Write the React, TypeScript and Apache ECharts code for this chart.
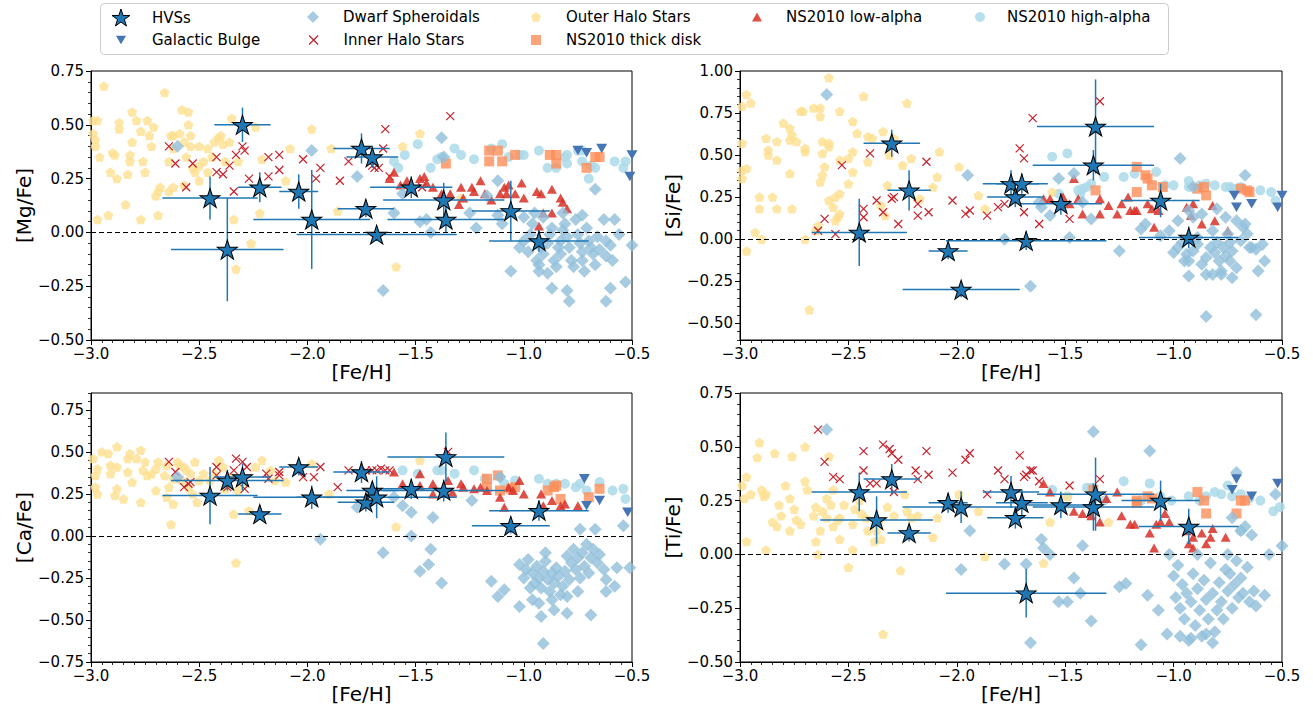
import React, { useEffect, useRef } from 'react';
import * as echarts from 'echarts';

const FONT = "'DejaVu Sans', sans-serif";

// ---------- HVS stars (same star order in every panel) ----------
const hvsFeH = [-2.45, -2.37, -2.30, -2.22, -2.04, -1.98, -1.75, -1.73, -1.70, -1.68, -1.52, -1.37, -1.36, -1.06, -0.93];
const hvsFeHErr = [0.22, 0.26, 0.13, 0.10, 0.09, 0.27, 0.13, 0.13, 0.12, 0.37, 0.19, 0.28, 0.27, 0.18, 0.23];
const hvsMg = [0.16, -0.08, 0.50, 0.21, 0.19, 0.06, 0.39, 0.11, 0.35, -0.01, 0.21, 0.15, 0.06, 0.10, -0.04];
const hvsMgErr = [0.10, 0.24, 0.08, 0.07, 0.08, 0.23, 0.07, 0.04, 0.05, 0.03, 0.05, 0.08, 0.06, 0.14, 0.05];
const hvsSi = [0.04, null, 0.57, 0.29, -0.07, -0.30, 0.33, 0.25, 0.33, -0.01, 0.21, 0.44, 0.67, 0.23, 0.01];
const hvsSiErr = [0.20, null, 0.08, 0.12, 0.05, 0.045, 0.08, 0.06, 0.06, 0.055, 0.065, 0.09, 0.28, 0.10, 0.065];
const hvsCa = [0.24, 0.33, 0.35, 0.13, 0.41, 0.23, 0.38, 0.20, 0.27, 0.23, 0.28, 0.27, 0.47, 0.06, 0.15];
const hvsCaErr = [0.17, 0.06, 0.08, 0.035, 0.05, 0.07, 0.065, 0.055, 0.05, 0.125, 0.06, 0.065, 0.145, 0.045, 0.06];
const hvsTi = [0.29, 0.16, 0.35, 0.10, 0.24, 0.22, 0.29, 0.17, 0.24, -0.18, 0.23, 0.22, 0.28, 0.25, 0.13];
const hvsTiErr = [0.09, 0.11, 0.07, 0.04, 0.047, 0.074, 0.074, 0.05, 0.062, 0.113, 0.062, 0.11, 0.17, 0.093, 0.082];

// ---------- [Mg/Fe] ----------
const mgOuter = [[-2.94,0.68],[-2.99,0.52],[-2.97,0.52],[-2.99,0.46],[-2.98,0.43],[-2.98,0.40],[-2.96,0.35],[-2.97,0.06],[-2.92,0.08],[-2.91,0.28],[-2.90,0.37],[-2.89,0.36],[-2.88,0.25],[-2.87,0.51],[-2.87,0.48],[-2.84,0.13],[-2.83,0.27],[-2.82,0.33],[-2.82,0.36],[-2.81,0.56],[-2.79,0.52],[-2.81,0.42],[-2.77,0.06],[-2.76,0.33],[-2.75,0.28],[-2.77,0.47],[-2.74,0.52],[-2.71,0.49],[-2.73,0.45],[-2.72,0.40],[-2.70,0.17],[-2.69,0.19],[-2.68,0.21],[-2.69,0.08],[-2.66,0.65],[-2.64,0.33],[-2.64,0.19],[-2.63,0.45],[-2.62,0.45],[-2.62,0.39],[-2.59,0.46],[-2.58,0.57],[-2.55,0.56],[-2.57,0.42],[-2.55,0.50],[-2.54,0.45],[-2.54,0.40],[-2.53,0.30],[-2.52,0.28],[-2.50,0.31],[-2.50,0.40],[-2.46,0.39],[-2.50,0.24],[-2.46,0.28],[-2.43,0.42],[-2.41,0.44],[-2.40,0.45],[-2.39,0.41],[-2.38,0.33],[-2.35,0.53],[-2.36,0.42],[-2.34,0.06],[-2.33,-0.17],[-2.26,-0.05],[-2.24,0.49],[-2.32,0.33],[-2.22,0.09],[-2.21,0.34],[-2.10,0.24],[-2.08,0.39],[-1.98,0.48],[-1.89,0.39],[-1.86,0.10],[-1.56,0.40],[-1.48,0.46],[-1.29,0.16],[-1.59,-0.16],[-2.62,0.21],[-2.57,0.22],[-2.56,0.35],[-2.48,0.33],[-2.44,0.35]];
const mgInner = [[-2.64,0.40],[-2.61,0.32],[-2.56,0.21],[-2.53,0.32],[-2.42,0.35],[-2.42,0.28],[-2.39,0.27],[-2.36,0.31],[-2.33,0.36],[-2.30,0.40],[-2.29,0.38],[-2.34,0.19],[-2.27,0.25],[-2.18,0.35],[-2.18,0.26],[-2.13,0.36],[-2.13,0.29],[-2.02,0.34],[-1.94,0.30],[-1.96,0.25],[-1.85,0.24],[-1.81,0.33],[-1.70,0.31],[-1.69,0.30],[-1.67,0.30],[-1.64,0.48],[-1.65,0.39],[-1.62,0.26],[-1.34,0.54],[-1.47,0.21]];
const mgDsph = [[-2.60,0.40],[-1.98,0.38],[-1.77,0.26],[-1.38,0.44],[-1.37,0.35],[-1.65,-0.27],[-1.60,0.09],[-1.56,0.18],[-1.48,0.05],[-1.43,0.00],[-1.22,0.02],[-1.25,0.09],[-1.12,0.24],[-1.10,0.04],[-1.06,-0.18],[-0.67,0.20],[-0.58,0.06],[-0.56,-0.01],[-0.87,-0.26],[-0.79,-0.32],[-0.80,-0.27],[-0.62,-0.32],[-0.60,-0.26],[-0.53,-0.23],[-0.50,-0.06],[-1.02,-0.07],[-1.00,-0.04],[-0.98,-0.09],[-0.97,-0.01],[-0.96,0.04],[-0.94,-0.13],[-0.93,-0.15],[-0.92,-0.07],[-0.91,-0.10],[-0.89,-0.05],[-0.88,-0.01],[-0.87,0.02],[-0.86,-0.13],[-0.85,-0.16],[-0.84,-0.07],[-0.83,-0.10],[-0.83,-0.04],[-0.82,0.01],[-0.81,0.04],[-0.80,-0.02],[-0.79,-0.07],[-0.78,-0.13],[-0.77,-0.16],[-0.76,0.06],[-0.75,-0.01],[-0.74,-0.05],[-0.73,-0.09],[-0.73,-0.13],[-0.72,-0.18],[-0.71,0.02],[-0.70,-0.04],[-0.69,-0.07],[-0.68,-0.10],[-0.67,-0.15],[-0.66,-0.02],[-0.65,-0.08],[-0.63,0.06],[-0.62,-0.04],[-0.62,-0.11],[-0.60,-0.06],[-0.59,-0.13],[-0.91,0.07],[-0.93,-0.18],[-0.89,-0.19],[-0.82,0.09],[-0.73,0.08],[-1.00,0.07],[-0.95,0.09],[-1.45,0.06],[-1.12,0.08],[-1.17,0.17]];
const mgHigh = [[-1.49,0.41],[-1.55,0.36],[-1.43,0.30],[-1.40,0.34],[-1.38,0.35],[-1.32,0.39],[-1.23,0.34],[-1.15,0.39],[-1.10,0.41],[-1.07,0.35],[-1.00,0.36],[-0.93,0.38],[-0.89,0.30],[-0.81,0.35],[-0.85,0.30],[-0.75,0.38],[-0.73,0.33],[-0.69,0.31],[-0.67,0.30],[-0.70,0.25],[-0.58,0.33],[-0.54,0.30],[-0.53,0.33],[-0.73,0.38],[-0.80,0.36],[-1.29,0.36],[-0.80,0.32],[-1.02,0.36],[-1.58,0.30],[-1.60,0.33]];
const mgThick = [[-1.36,0.32],[-1.16,0.38],[-1.12,0.38],[-1.16,0.33],[-1.10,0.33],[-1.04,0.36],[-0.88,0.36],[-0.85,0.36],[-0.85,0.32],[-0.71,0.30],[-0.67,0.35],[-0.65,0.35]];
const mgLow = [[-1.60,0.28],[-1.57,0.22],[-1.48,0.25],[-1.46,0.26],[-1.45,0.23],[-1.42,0.21],[-1.34,0.18],[-1.29,0.21],[-1.28,0.16],[-1.24,0.21],[-1.23,0.19],[-1.20,0.24],[-1.18,0.18],[-1.15,0.15],[-1.11,0.18],[-1.09,0.21],[-1.08,0.18],[-1.07,0.22],[-1.01,0.23],[-1.04,0.18],[-1.00,0.16],[-0.94,0.19],[-0.92,0.18],[-0.87,0.20],[-0.83,0.16],[-0.82,0.14],[-0.91,0.09],[-0.87,0.09],[-1.30,0.13],[-1.38,0.18],[-1.54,0.24],[-1.62,0.25],[-0.80,0.11],[-0.93,0.03]];
const mgBulge = [[-0.75,0.38],[-0.71,0.37],[-0.64,0.39],[-0.51,0.26],[-0.50,0.36]];

// ---------- [Si/Fe] ----------
const siOuter = [[-2.99,0.79],[-2.97,0.86],[-2.95,0.81],[-2.99,0.57],[-2.99,0.41],[-2.99,0.36],[-2.97,0.42],[-2.93,0.04],[-2.91,0.25],[-2.91,0.18],[-2.90,0.00],[-2.88,0.60],[-2.87,0.53],[-2.87,0.50],[-2.85,0.25],[-2.83,0.18],[-2.83,0.47],[-2.83,0.58],[-2.80,0.69],[-2.77,0.66],[-2.76,0.62],[-2.77,0.59],[-2.77,0.39],[-2.76,0.18],[-2.74,0.58],[-2.72,0.76],[-2.71,0.76],[-2.70,0.54],[-2.70,0.52],[-2.70,0.00],[-2.68,-0.42],[-2.66,0.78],[-2.63,0.78],[-2.63,0.73],[-2.62,0.58],[-2.62,0.51],[-2.63,0.34],[-2.62,0.38],[-2.61,0.43],[-2.65,0.05],[-2.64,0.08],[-2.59,0.96],[-2.59,0.57],[-2.59,0.55],[-2.59,0.23],[-2.56,0.25],[-2.57,0.19],[-2.55,0.13],[-2.54,0.27],[-2.56,0.11],[-2.54,0.15],[-2.54,0.76],[-2.54,0.47],[-2.50,0.33],[-2.50,0.48],[-2.48,0.70],[-2.48,0.52],[-2.46,0.63],[-2.48,0.40],[-2.43,0.85],[-2.41,0.61],[-2.41,0.46],[-2.39,0.60],[-2.34,0.64],[-2.35,0.20],[-2.33,0.14],[-2.32,0.32],[-2.31,0.50],[-2.29,0.60],[-2.25,0.44],[-2.23,0.81],[-2.21,0.48],[-2.17,0.24],[-2.11,0.31],[-2.09,0.37],[-2.08,0.52],[-1.99,0.43],[-1.90,0.26],[-1.87,0.18],[-1.56,0.28],[-2.97,-0.07]];
const siInner = [[-2.64,0.05],[-2.61,0.12],[-2.56,0.03],[-2.53,0.44],[-2.43,0.18],[-2.43,0.13],[-2.40,0.51],[-2.37,0.23],[-2.34,0.16],[-2.30,0.24],[-2.29,0.25],[-2.27,0.09],[-2.18,0.21],[-2.18,0.14],[-2.14,0.46],[-2.13,0.16],[-2.02,0.23],[-1.96,0.15],[-1.94,0.17],[-1.86,0.14],[-1.81,0.19],[-1.78,0.21],[-1.71,0.54],[-1.69,0.48],[-1.69,0.16],[-1.65,0.72],[-1.62,0.09],[-1.48,0.12],[-1.34,0.82]];
const siDsph = [[-2.60,0.86],[-1.95,0.38],[-1.78,0.00],[-1.66,-0.28],[-1.62,0.22],[-1.61,0.19],[-1.57,0.14],[-1.53,0.36],[-1.48,0.01],[-1.46,0.39],[-1.38,0.12],[-1.42,0.22],[-1.25,-0.07],[-1.15,0.06],[-1.13,0.09],[-1.06,0.02],[-0.97,0.48],[-0.91,0.31],[-0.67,0.38],[-0.61,-0.19],[-0.62,-0.45],[-0.85,-0.46],[-0.93,-0.22],[-0.58,-0.13],[-0.59,-0.03],[-0.65,-0.05],[-0.62,-0.06],[-1.00,-0.08],[-0.98,-0.05],[-0.96,-0.02],[-0.94,-0.09],[-0.93,-0.13],[-0.91,-0.07],[-0.89,-0.03],[-0.87,-0.15],[-0.85,-0.11],[-0.83,-0.05],[-0.82,-0.21],[-0.81,-0.08],[-0.80,-0.02],[-0.79,-0.13],[-0.78,-0.19],[-0.77,-0.05],[-0.76,-0.10],[-0.75,0.03],[-0.74,-0.13],[-0.74,-0.02],[-0.73,-0.07],[-0.71,-0.17],[-0.69,-0.01],[-0.68,0.07],[-0.66,0.03],[-0.64,-0.05],[-0.91,0.13],[-0.87,0.15],[-0.80,0.18],[-0.76,0.13],[-0.98,0.11],[-0.93,0.17],[-1.02,0.05],[-0.82,0.05],[-0.89,0.01],[-0.95,-0.13],[-0.73,-0.23],[-0.78,-0.21],[-0.85,-0.21],[-0.67,0.09],[-0.71,0.11]];
const siHigh = [[-1.56,0.49],[-1.49,0.51],[-1.40,0.31],[-1.43,0.27],[-1.42,0.30],[-1.38,0.33],[-1.32,0.37],[-1.23,0.37],[-1.18,0.39],[-1.08,0.40],[-1.04,0.32],[-1.00,0.32],[-0.93,0.345],[-0.93,0.31],[-0.88,0.32],[-0.81,0.32],[-0.74,0.31],[-0.73,0.30],[-0.60,0.29],[-0.55,0.28],[-0.53,0.23],[-0.69,0.31],[-1.53,0.27],[-1.44,0.29],[-0.85,0.33],[-0.76,0.31],[-0.71,0.30]];
const siThick = [[-1.36,0.29],[-1.17,0.43],[-1.13,0.38],[-1.12,0.36],[-1.10,0.32],[-1.17,0.28],[-1.05,0.31],[-0.89,0.30],[-0.86,0.31],[-0.85,0.26],[-0.69,0.30],[-0.66,0.29],[-0.65,0.28]];
const siLow = [[-1.57,0.24],[-1.51,0.25],[-1.48,0.21],[-1.46,0.36],[-1.42,0.15],[-1.34,0.24],[-1.34,0.15],[-1.30,0.20],[-1.26,0.15],[-1.24,0.21],[-1.21,0.25],[-1.20,0.17],[-1.18,0.17],[-1.17,0.17],[-1.12,0.21],[-1.10,0.18],[-1.09,0.07],[-1.07,0.17],[-0.94,0.19],[-0.92,0.14],[-0.87,0.09],[-0.82,0.20],[-0.81,0.11],[-0.75,0.05],[-0.91,0.21],[-1.60,0.24],[-1.44,0.24]];
const siBulge = [[-0.72,0.26],[-0.71,0.19],[-0.64,0.21],[-0.52,0.19],[-0.50,0.26]];

// ---------- [Ca/Fe] ----------
const caOuter = [[-2.99,0.46],[-2.98,0.36],[-2.97,0.40],[-2.98,0.29],[-2.97,0.25],[-2.95,0.50],[-2.92,0.49],[-2.91,0.42],[-2.91,0.37],[-2.89,0.24],[-2.88,0.41],[-2.88,0.53],[-2.88,0.28],[-2.85,0.22],[-2.83,0.46],[-2.83,0.38],[-2.82,0.49],[-2.81,0.32],[-2.79,0.46],[-2.77,0.51],[-2.77,0.20],[-2.76,0.39],[-2.75,0.44],[-2.74,0.36],[-2.72,0.37],[-2.70,0.40],[-2.70,0.27],[-2.69,0.44],[-2.66,0.36],[-2.65,0.42],[-2.65,0.23],[-2.64,0.29],[-2.63,0.07],[-2.62,0.19],[-2.59,0.42],[-2.58,0.33],[-2.57,0.41],[-2.55,0.29],[-2.54,0.37],[-2.52,0.44],[-2.51,0.20],[-2.50,0.33],[-2.48,0.37],[-2.43,0.37],[-2.41,0.45],[-2.39,0.41],[-2.38,0.28],[-2.35,0.35],[-2.34,0.13],[-2.33,-0.16],[-2.32,0.27],[-2.30,0.31],[-2.27,0.15],[-2.24,0.41],[-2.21,0.45],[-2.17,0.39],[-2.15,0.33],[-2.10,0.32],[-1.98,0.43],[-1.90,0.25],[-1.59,0.055],[-1.48,0.45],[-2.60,0.44],[-2.56,0.39],[-2.45,0.33],[-2.62,0.34],[-2.53,0.25]];
const caInner = [[-2.64,0.44],[-2.61,0.38],[-2.57,0.29],[-2.54,0.32],[-2.42,0.41],[-2.42,0.36],[-2.37,0.29],[-2.33,0.46],[-2.34,0.39],[-2.30,0.44],[-2.29,0.28],[-2.28,0.41],[-2.19,0.37],[-2.18,0.34],[-2.13,0.38],[-2.13,0.36],[-2.02,0.35],[-1.97,0.35],[-1.94,0.41],[-1.86,0.29],[-1.81,0.39],[-1.73,0.39],[-1.70,0.39],[-1.68,0.39],[-1.66,0.40],[-1.64,0.39],[-1.62,0.39],[-1.35,0.50],[-2.55,0.31]];
const caDsph = [[-2.60,0.35],[-1.94,-0.02],[-1.77,0.17],[-1.65,-0.10],[-1.60,0.23],[-1.56,0.18],[-1.52,0.14],[-1.52,0.00],[-1.48,-0.21],[-1.44,-0.17],[-1.43,-0.08],[-1.42,0.11],[-1.38,-0.28],[-1.24,0.21],[-1.15,-0.27],[-1.12,-0.36],[-1.09,-0.32],[-1.02,-0.42],[-0.91,-0.64],[-0.92,-0.48],[-0.87,-0.38],[-0.80,-0.46],[-0.69,-0.47],[-0.74,0.04],[-0.67,0.04],[-0.54,0.06],[-0.51,-0.19],[-0.58,-0.30],[-0.62,-0.33],[-0.57,-0.19],[-1.11,0.35],[-1.02,-0.17],[-1.00,-0.25],[-0.99,-0.20],[-0.98,-0.14],[-0.96,-0.22],[-0.95,-0.28],[-0.94,-0.18],[-0.93,-0.25],[-0.92,-0.31],[-0.91,-0.21],[-0.90,-0.15],[-0.89,-0.26],[-0.88,-0.33],[-0.87,-0.22],[-0.86,-0.28],[-0.85,-0.19],[-0.84,-0.24],[-0.83,-0.35],[-0.82,-0.30],[-0.81,-0.21],[-0.80,-0.12],[-0.79,-0.26],[-0.78,-0.16],[-0.77,-0.08],[-0.76,-0.20],[-0.75,-0.13],[-0.74,-0.25],[-0.73,-0.10],[-0.72,-0.18],[-0.71,-0.05],[-0.70,-0.22],[-0.69,-0.13],[-0.68,-0.08],[-0.66,-0.16],[-0.65,-0.11],[-0.63,-0.20],[-0.62,-0.26],[-0.96,-0.38],[-0.93,-0.40],[-0.86,-0.44],[-0.80,-0.36],[-0.75,-0.33],[-0.90,-0.10],[-0.97,-0.31]];
const caHigh = [[-1.56,0.39],[-1.49,0.37],[-1.40,0.39],[-1.38,0.39],[-1.32,0.37],[-1.23,0.39],[-1.18,0.34],[-1.11,0.35],[-1.09,0.31],[-1.04,0.33],[-0.93,0.34],[-0.89,0.31],[-0.81,0.31],[-0.74,0.31],[-0.71,0.27],[-0.65,0.32],[-0.59,0.27],[-0.54,0.28],[-0.53,0.22],[-0.76,0.29],[-0.85,0.31]];
const caThick = [[-1.17,0.34],[-1.17,0.29],[-1.12,0.36],[-1.11,0.27],[-1.06,0.28],[-1.04,0.29],[-0.89,0.27],[-0.86,0.29],[-0.85,0.30],[-0.83,0.22],[-0.70,0.23],[-0.65,0.28]];
const caLow = [[-1.60,0.38],[-1.56,0.31],[-1.48,0.37],[-1.48,0.30],[-1.42,0.31],[-1.42,0.25],[-1.35,0.33],[-1.33,0.26],[-1.29,0.31],[-1.28,0.29],[-1.23,0.28],[-1.20,0.29],[-1.17,0.27],[-1.11,0.23],[-1.09,0.17],[-1.07,0.29],[-1.05,0.27],[-1.02,0.33],[-1.00,0.25],[-0.92,0.25],[-0.91,0.18],[-0.87,0.21],[-0.83,0.18],[-0.81,0.19],[-0.75,0.18]];
const caBulge = [[-0.72,0.34],[-0.71,0.18],[-0.65,0.21],[-0.52,0.14]];

// ---------- [Ti/Fe] ----------
const tiOuter = [[-2.99,0.32],[-2.98,0.26],[-2.97,0.36],[-2.97,0.06],[-2.95,0.28],[-2.92,0.45],[-2.91,0.52],[-2.90,0.30],[-2.89,0.27],[-2.88,0.28],[-2.88,0.02],[-2.85,0.15],[-2.84,0.47],[-2.83,0.13],[-2.82,0.23],[-2.81,0.18],[-2.79,0.32],[-2.77,0.26],[-2.76,0.455],[-2.77,0.11],[-2.75,0.21],[-2.74,0.16],[-2.72,0.14],[-2.70,0.50],[-2.70,0.34],[-2.69,0.30],[-2.66,0.18],[-2.65,0.22],[-2.65,0.06],[-2.64,0.00],[-2.63,0.11],[-2.62,0.20],[-2.60,0.17],[-2.59,0.455],[-2.57,0.30],[-2.55,0.16],[-2.54,0.17],[-2.54,0.07],[-2.52,0.23],[-2.50,-0.06],[-2.48,0.02],[-2.48,0.14],[-2.47,0.21],[-2.42,0.17],[-2.41,0.11],[-2.38,0.06],[-2.37,0.11],[-2.36,0.15],[-2.35,0.07],[-2.32,0.22],[-2.29,0.18],[-2.26,-0.075],[-2.24,0.28],[-2.23,0.20],[-2.21,0.17],[-2.18,0.18],[-2.11,0.08],[-2.09,0.17],[-1.99,0.28],[-1.90,0.20],[-1.87,-0.01],[-1.60,-0.04],[-1.57,0.15],[-1.49,0.27],[-1.30,0.15],[-2.34,-0.37],[-2.60,0.26],[-2.58,0.23],[-2.45,0.25],[-2.44,0.19],[-2.57,0.13]];
const tiInner = [[-2.64,0.58],[-2.61,0.43],[-2.57,0.36],[-2.54,0.35],[-2.43,0.48],[-2.43,0.39],[-2.40,0.33],[-2.37,0.33],[-2.34,0.51],[-2.31,0.49],[-2.30,0.47],[-2.29,0.29],[-2.27,0.44],[-2.19,0.39],[-2.18,0.35],[-2.14,0.48],[-2.13,0.37],[-2.02,0.38],[-1.96,0.44],[-1.94,0.47],[-1.86,0.28],[-1.81,0.39],[-1.78,0.35],[-1.71,0.46],[-1.69,0.36],[-1.68,0.37],[-1.66,0.39],[-1.65,0.39],[-1.62,0.34],[-1.48,0.32],[-1.34,0.35]];
const tiDsph = [[-2.60,0.58],[-1.94,0.11],[-1.98,-0.07],[-1.78,-0.045],[-1.68,-0.045],[-1.66,-0.41],[-1.61,0.07],[-1.60,0.03],[-1.57,0.00],[-1.53,-0.22],[-1.49,-0.22],[-1.46,-0.11],[-1.43,-0.18],[-1.42,0.04],[-1.38,-0.31],[-1.37,0.57],[-1.25,-0.15],[-1.22,-0.135],[-1.15,-0.42],[-1.12,-0.19],[-1.11,0.48],[-1.07,-0.26],[-1.03,-0.37],[-1.02,0.00],[-0.73,0.17],[-0.71,0.38],[-0.67,0.13],[-0.64,0.09],[-0.56,0.00],[-0.50,0.04],[-0.53,0.28],[-0.69,0.11],[-1.00,-0.10],[-0.99,-0.20],[-0.98,-0.05],[-0.97,-0.25],[-0.96,-0.14],[-0.95,-0.30],[-0.94,-0.18],[-0.93,-0.40],[-0.92,-0.22],[-0.91,-0.09],[-0.90,-0.33],[-0.89,-0.16],[-0.88,-0.26],[-0.87,-0.38],[-0.86,-0.12],[-0.85,-0.21],[-0.84,-0.30],[-0.83,-0.04],[-0.82,-0.18],[-0.81,-0.36],[-0.80,-0.26],[-0.79,-0.13],[-0.78,-0.22],[-0.77,-0.30],[-0.76,-0.07],[-0.75,-0.17],[-0.74,-0.09],[-0.73,-0.25],[-0.72,-0.14],[-0.71,-0.03],[-0.70,-0.20],[-0.69,-0.11],[-0.68,-0.18],[-0.66,-0.06],[-0.65,-0.22],[-0.63,-0.17],[-0.62,-0.24],[-0.58,-0.19],[-0.92,-0.39],[-0.85,-0.37],[-0.89,0.00],[-0.75,0.00],[-0.97,-0.38],[-0.82,-0.41]];
const tiHigh = [[-1.56,0.30],[-1.49,0.27],[-1.40,0.31],[-1.38,0.31],[-1.32,0.25],[-1.23,0.34],[-1.15,0.25],[-1.11,0.33],[-1.06,0.27],[-1.01,0.25],[-0.93,0.27],[-0.88,0.25],[-0.81,0.29],[-0.75,0.32],[-0.73,0.27],[-0.69,0.28],[-0.65,0.26],[-0.60,0.25],[-0.54,0.20],[-0.51,0.22],[-0.69,0.11],[-0.78,0.28],[-0.85,0.27]];
const tiThick = [[-1.37,0.30],[-1.17,0.25],[-1.17,0.24],[-1.12,0.27],[-1.10,0.26],[-0.89,0.29],[-0.86,0.25],[-0.85,0.19],[-0.71,0.19],[-0.69,0.25],[-0.67,0.25]];
const tiLow = [[-1.57,0.29],[-1.60,0.33],[-1.46,0.20],[-1.42,0.19],[-1.38,0.18],[-1.34,0.15],[-1.31,0.26],[-1.26,0.29],[-1.24,0.18],[-1.20,0.14],[-1.18,0.14],[-1.11,0.10],[-1.09,0.03],[-1.08,0.14],[-1.04,0.19],[-1.02,0.15],[-0.94,0.11],[-0.93,0.05],[-0.91,0.03],[-0.87,0.10],[-0.85,0.05],[-0.83,0.08],[-0.82,0.12],[-0.76,0.08],[-0.91,0.08],[-1.06,0.15]];
const tiBulge = [[-0.73,0.30],[-0.71,0.35],[-0.64,0.27],[-0.52,0.33]];

// ---------- axes ----------
const feHMin = -3.0;
const feHMax = -0.5;
const mgTicks = [-0.5, -0.25, 0, 0.25, 0.5, 0.75];
const siTicks = [-0.5, -0.25, 0, 0.25, 0.5, 0.75, 1.0];
const caTicks = [-0.75, -0.5, -0.25, 0, 0.25, 0.5, 0.75];
const tiTicks = [-0.5, -0.25, 0, 0.25, 0.5, 0.75];

const panels = [
  { label: '[Mg/Fe]', min: -0.5, max: 0.75, ticks: mgTicks, hvs: hvsMg, hvsErr: hvsMgErr, outer: mgOuter, inner: mgInner, dsph: mgDsph, high: mgHigh, thick: mgThick, low: mgLow, bulge: mgBulge },
  { label: '[Si/Fe]', min: -0.6, max: 1.0, ticks: siTicks, hvs: hvsSi, hvsErr: hvsSiErr, outer: siOuter, inner: siInner, dsph: siDsph, high: siHigh, thick: siThick, low: siLow, bulge: siBulge },
  { label: '[Ca/Fe]', min: -0.75, max: 0.85, ticks: caTicks, hvs: hvsCa, hvsErr: hvsCaErr, outer: caOuter, inner: caInner, dsph: caDsph, high: caHigh, thick: caThick, low: caLow, bulge: caBulge },
  { label: '[Ti/Fe]', min: -0.5, max: 0.75, ticks: tiTicks, hvs: hvsTi, hvsErr: hvsTiErr, outer: tiOuter, inner: tiInner, dsph: tiDsph, high: tiHigh, thick: tiThick, low: tiLow, bulge: tiBulge },
];

const grids = [
  { left: 91, top: 71, width: 541, height: 269 },
  { left: 740, top: 71, width: 542, height: 269 },
  { left: 91, top: 393, width: 541, height: 269 },
  { left: 740, top: 393, width: 542, height: 269 },
];

const STAR = 'path://M50,0 L61.2,34.5 L97.6,34.5 L68.2,55.9 L79.4,90.5 L50,69.1 L20.6,90.5 L31.8,55.9 L2.4,34.5 L38.8,34.5 Z';
const PENT = 'path://M50,0 L97.6,34.5 L79.4,90.5 L20.6,90.5 L2.4,34.5 Z';
const XMARK = 'path://M0,0 L10,10 M10,0 L0,10';
const DOWN = 'path://M0,0 L10,0 L5,8.66 Z';

const STYLES: Record<string, any> = {
  'HVSs': { symbol: STAR, size: [20, 19], itemStyle: { color: '#1f77b4', borderColor: '#000', borderWidth: 1, opacity: 1 } },
  'Galactic Bulge': { symbol: DOWN, size: [11, 9.5], itemStyle: { color: '#4575b4', opacity: 1 } },
  'Dwarf Spheroidals': { symbol: 'diamond', size: [13, 13], itemStyle: { color: 'rgba(145,191,219,0.8)', opacity: 1 } },
  'Inner Halo Stars': { symbol: XMARK, size: [8, 8], itemStyle: { color: 'rgba(0,0,0,0)', borderColor: '#c8202a', borderWidth: 1.2, opacity: 1 } },
  'Outer Halo Stars': { symbol: PENT, size: [10, 9.5], itemStyle: { color: 'rgba(254,224,144,0.8)', opacity: 1 } },
  'NS2010 thick disk': { symbol: 'rect', size: [10, 10], itemStyle: { color: 'rgba(252,141,89,0.8)', opacity: 1 } },
  'NS2010 low-alpha': { symbol: 'triangle', size: [10, 9], itemStyle: { color: 'rgba(215,48,39,0.85)', opacity: 1 } },
  'NS2010 high-alpha': { symbol: 'circle', size: [10, 10], itemStyle: { color: 'rgba(171,217,233,0.85)', opacity: 1 } },
};

function signed(v: number, digits: number) {
  const s = Math.abs(v) < 1e-9 ? (0).toFixed(digits) : v.toFixed(digits);
  return s.replace('-', '\u2212');
}

function minorTicks(min: number, max: number, step: number, majors: number[]) {
  const out: number[] = [];
  const start = Math.ceil(min / step - 1e-6);
  const end = Math.floor(max / step + 1e-6);
  for (let k = start; k <= end; k++) {
    const v = Math.round(k * step * 1000) / 1000;
    if (!majors.some((m) => Math.abs(m - v) < 1e-6)) out.push(v);
  }
  return out;
}

function buildOption() {
  const xAxis: any[] = [];
  const yAxis: any[] = [];
  const series: any[] = [];

  panels.forEach((p, i) => {
    xAxis.push({
      type: 'value', gridIndex: i, min: feHMin, max: feHMax, interval: 0.5,
      name: '[Fe/H]', nameLocation: 'middle', nameGap: 22,
      nameTextStyle: { fontSize: 20, color: '#000', fontFamily: FONT },
      axisLine: { show: true, onZero: false, lineStyle: { color: '#000', width: 1 } },
      axisTick: { show: true, length: 5, lineStyle: { color: '#000', width: 1 } },
      minorTick: { show: true, splitNumber: 10, length: 3, lineStyle: { color: '#000', width: 0.8 } },
      axisLabel: { fontSize: 15, color: '#000', fontFamily: FONT, margin: 6, formatter: (v: number) => signed(v, 1) },
      splitLine: { show: false }, minorSplitLine: { show: false },
    });
    yAxis.push({
      type: 'value', gridIndex: i, min: p.min, max: p.max, position: 'left',
      name: p.label, nameLocation: 'middle', nameGap: 55,
      nameTextStyle: { fontSize: 20, color: '#000', fontFamily: FONT },
      axisLine: { show: true, onZero: false, lineStyle: { color: '#000', width: 1 } },
      axisTick: { show: true, length: 5, customValues: p.ticks, lineStyle: { color: '#000', width: 1 } },
      axisLabel: { fontSize: 15, color: '#000', fontFamily: FONT, margin: 7, customValues: p.ticks, formatter: (v: number) => signed(v, 2) },
      splitLine: { show: false },
    });
    yAxis.push({
      type: 'value', gridIndex: i, min: p.min, max: p.max, position: 'left',
      axisLine: { show: false },
      axisTick: { show: true, length: 3, customValues: minorTicks(p.min, p.max, 0.05, p.ticks), lineStyle: { color: '#000', width: 0.8 } },
      axisLabel: { show: false },
      splitLine: { show: false },
    });

    const yi = 2 * i;
    const bg = (name: string, data: number[][], extra: any = {}) => {
      const st = STYLES[name];
      series.push({
        type: 'scatter', name, xAxisIndex: i, yAxisIndex: yi, data,
        symbol: st.symbol, symbolSize: st.size, itemStyle: st.itemStyle,
        z: 2, emphasis: { disabled: true }, ...extra,
      });
    };
    bg('NS2010 high-alpha', p.high);
    bg('NS2010 thick disk', p.thick);
    bg('Outer Halo Stars', p.outer);
    bg('Inner Halo Stars', p.inner);
    bg('NS2010 low-alpha', p.low);
    bg('Dwarf Spheroidals', p.dsph);
    bg('Galactic Bulge', p.bulge, {
      markLine: {
        silent: true, symbol: ['none', 'none'], label: { show: false },
        lineStyle: { color: '#000', type: [5, 3], width: 1.2, opacity: 1 },
        data: [{ yAxis: 0 }],
      },
    });

    const errData: number[][] = [];
    const starData: number[][] = [];
    hvsFeH.forEach((fe, k) => {
      const v = p.hvs[k];
      const e = p.hvsErr[k];
      if (v === null || v === undefined) return;
      errData.push([fe, v as number, hvsFeHErr[k], (e as number) || 0]);
      starData.push([fe, v as number]);
    });
    series.push({
      type: 'custom', name: 'HVS errors', xAxisIndex: i, yAxisIndex: yi, z: 3,
      data: errData, encode: { x: 0, y: 1 }, silent: true,
      renderItem: (params: any, api: any) => {
        const x = api.value(0), y = api.value(1), xe = api.value(2), ye = api.value(3);
        const a = api.coord([x - xe, y]);
        const b = api.coord([x + xe, y]);
        const c = api.coord([x, y - ye]);
        const d = api.coord([x, y + ye]);
        const st = { stroke: '#1f77b4', lineWidth: 1.5 };
        return {
          type: 'group',
          children: [
            { type: 'line', shape: { x1: a[0], y1: a[1], x2: b[0], y2: b[1] }, style: st },
            { type: 'line', shape: { x1: c[0], y1: c[1], x2: d[0], y2: d[1] }, style: st },
          ],
        };
      },
    });
    const hs = STYLES['HVSs'];
    series.push({
      type: 'scatter', name: 'HVSs', xAxisIndex: i, yAxisIndex: yi, data: starData,
      symbol: hs.symbol, symbolSize: hs.size, itemStyle: hs.itemStyle, z: 4,
      emphasis: { disabled: true },
    });
  });

  // legend: one component per entry, laid out like matplotlib's 2-row legend
  const legendItems = [
    { name: 'HVSs', cx: 121, row: 0, textX: 152, w: 19, h: 17, bw: 1 },
    { name: 'Galactic Bulge', cx: 121, row: 1, textX: 152, w: 10, h: 9 },
    { name: 'Dwarf Spheroidals', cx: 313, row: 0, textX: 343, w: 12, h: 12 },
    { name: 'Inner Halo Stars', cx: 313, row: 1, textX: 343, w: 9, h: 9, bw: 1.2 },
    { name: 'Outer Halo Stars', cx: 536, row: 0, textX: 566, w: 10, h: 10 },
    { name: 'NS2010 thick disk', cx: 536, row: 1, textX: 566, w: 10, h: 10 },
    { name: 'NS2010 low-alpha', cx: 757, row: 0, textX: 786, w: 10, h: 9 },
    { name: 'NS2010 high-alpha', cx: 980, row: 0, textX: 1007, w: 10, h: 10 },
  ];
  const rowY = [17, 40];
  const legend = legendItems.map((it) => {
    const left = it.cx - it.w / 2;
    const boxH = Math.max(it.h, 15);
    const padL = it.textX - (left + it.w + 5);
    const l: any = {
      show: true, data: [it.name], left, top: rowY[it.row] - boxH / 2,
      itemWidth: it.w, itemHeight: it.h, padding: 0, itemGap: 0, selectedMode: false,
      textStyle: { fontSize: 15, color: '#000', fontFamily: FONT, padding: [0, 0, 0, padL] },
    };
    if (it.bw) l.itemStyle = { borderWidth: it.bw };
    return l;
  });

  return {
    animation: false,
    backgroundColor: '#fff',
    textStyle: { fontFamily: FONT },
    grid: grids.map((g) => ({ ...g, show: true, borderColor: '#000', borderWidth: 1, backgroundColor: 'transparent' })),
    xAxis, yAxis, series, legend,
    graphic: [
      { type: 'rect', left: 100, top: 3, z: -10, silent: true,
        shape: { width: 1068, height: 51, r: 4 },
        style: { fill: '#fff', stroke: '#cccccc', lineWidth: 1 } },
    ],
  };
}

export default function App() {
  const ref = useRef<HTMLDivElement>(null);
  useEffect(() => {
    const chart = echarts.init(ref.current!, null, { renderer: 'svg' });
    chart.setOption(buildOption() as any);
    return () => chart.dispose();
  }, []);
  return <div ref={ref} style={{ position: 'fixed', left: 0, top: 0, width: 1313, height: 708, background: '#fff' }} />;
}
